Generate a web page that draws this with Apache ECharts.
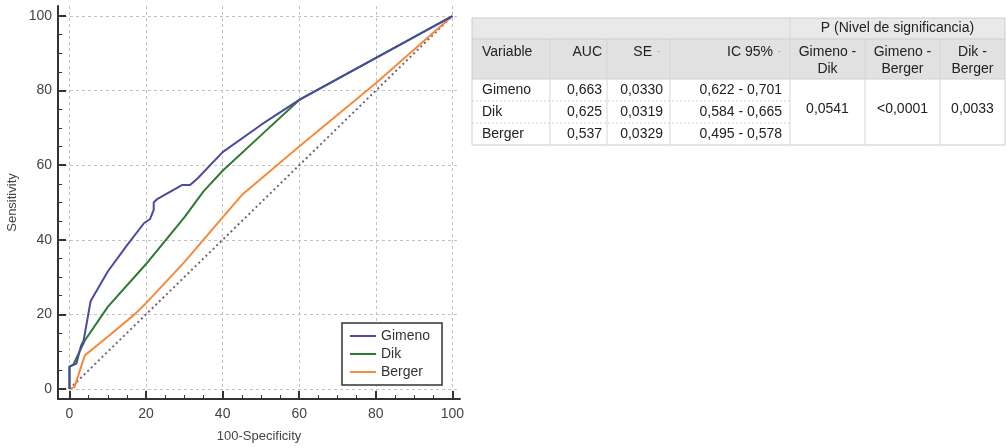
<!DOCTYPE html>
<html><head><meta charset="utf-8">
<script src="https://cdn.jsdelivr.net/npm/echarts@6/dist/echarts.min.js"></script>
<style>html,body{margin:0;padding:0;background:#fff}#c{width:1007px;height:448px}</style>
</head><body><div id="c"></div>
<script>
// ---- data ----
const seriesNames = ['Gimeno', 'Dik', 'Berger'];
const gimenoX = [0, 0, 1.8, 3, 3.7, 5.5, 10, 15, 19.5, 21, 22, 22, 23, 29.5, 31.5, 33.5, 40, 50, 60, 100];
const gimenoY = [0, 6, 6.8, 11.5, 13, 23.5, 31.5, 38.5, 44.5, 45.5, 48, 50, 51, 54.7, 54.7, 56.5, 63.5, 70.8, 77.5, 100];
const dikX = [0, 0, 1, 4, 10, 20, 30, 35, 40, 50, 60, 100];
const dikY = [0, 6, 6.5, 13, 22, 33.5, 46, 53, 58.5, 68, 77.5, 100];
const bergerX = [0, 1.3, 4, 10, 17, 20, 30, 40, 45, 60, 80, 100];
const bergerY = [0, 0.5, 9, 14, 20, 23, 34, 46, 52, 65, 82, 100];
const diagX = [0, 100];
const diagY = [0, 100];
const tickValues = [0, 20, 40, 60, 80, 100];
const minorTickValues = [0, 5, 10, 15, 20, 25, 30, 35, 40, 45, 50, 55, 60, 65, 70, 75, 80, 85, 90, 95, 100];
const xName = '100-Specificity';
const yName = 'Sensitivity';

const tableHeaders = ['Variable', 'AUC', 'SE', 'IC 95%'];
const tableVariables = ['Gimeno', 'Dik', 'Berger'];
const tableAUC = ['0,663', '0,625', '0,537'];
const tableSE = ['0,0330', '0,0319', '0,0329'];
const tableCI = ['0,622 - 0,701', '0,584 - 0,665', '0,495 - 0,578'];
const pTitle = 'P (Nivel de significancia)';
const pHeaders = [['Gimeno -', 'Dik'], ['Gimeno -', 'Berger'], ['Dik -', 'Berger']];
const pValues = ['0,0541', '<0,0001', '0,0033'];

// ---- chart ----
const FONT = '"Liberation Sans", Arial, Helvetica, sans-serif';
const colors = ['#4a4aa0', '#2d7a32', '#f58a3c'];
const zip = (xs, ys) => xs.map((x, i) => [x, ys[i]]);

const chart = echarts.init(document.getElementById('c'), null, {renderer: 'canvas'});

function axisCommon(min, max) {
  return {
    type: 'value', min: min, max: max,
    axisLine: {show: true, onZero: false, lineStyle: {color: '#333', width: 2}},
    axisTick: {show: true, inside: true, length: 8, customValues: tickValues, lineStyle: {color: '#333', width: 2}},
    axisLabel: {customValues: tickValues, fontSize: 14, color: '#444', fontFamily: FONT},
    splitLine: {show: true, lineStyle: {color: '#c2c2c2', width: 1, type: [3, 3]}},
    nameLocation: 'middle',
    nameTextStyle: {fontSize: 13, color: '#444', fontFamily: FONT}
  };
}
function minorAxis(min, max, pos) {
  return {
    type: 'value', min: min, max: max, position: pos,
    axisLine: {show: false, onZero: false},
    axisTick: {show: true, inside: true, length: 4, customValues: minorTickValues, lineStyle: {color: '#333', width: 1}},
    axisLabel: {show: false},
    splitLine: {show: false}
  };
}

const xMain = Object.assign(axisCommon(-3, 102), {position: 'bottom', name: xName, nameGap: 31});
xMain.axisLabel.margin = 8;
const yMain = Object.assign(axisCommon(-2.7, 102.7), {position: 'left', name: yName, nameGap: 39});
yMain.axisLabel.margin = 6;

// ---- table graphic ----
const colX = [472, 550, 607, 670, 790, 865, 940, 1005];
const tTop = 18, h1 = 39, h2 = 79, rowH = 22;
const tBottom = h2 + rowH * tableVariables.length;
const g = [];
const txtStyle = (s) => Object.assign({fontSize: 14, fontFamily: FONT, fill: '#222'}, s);
g.push({type: 'rect', shape: {x: colX[0], y: tTop, width: colX[7] - colX[0], height: h2 - tTop}, style: {fill: '#e1e1e1'}});
g.push({type: 'rect', shape: {x: colX[0], y: tTop, width: colX[7] - colX[0], height: h1 - tTop}, style: {fill: '#e9e9e9'}});
g.push({type: 'rect', shape: {x: colX[0], y: h2, width: colX[7] - colX[0], height: tBottom - h2}, style: {fill: '#fff'}});
g.push({type: 'line', shape: {x1: colX[0], y1: h1, x2: colX[7], y2: h1}, style: {stroke: '#cfcfcf', lineWidth: 1}});
g.push({type: 'line', shape: {x1: colX[0], y1: h2, x2: colX[7], y2: h2}, style: {stroke: '#cfcfcf', lineWidth: 1}});
for (let r = 1; r < tableVariables.length; r++) {
  const y = h2 + rowH * r;
  g.push({type: 'line', shape: {x1: colX[0], y1: y, x2: colX[4], y2: y}, style: {stroke: '#d6d6d6', lineWidth: 1, lineDash: [2, 2]}});
}
for (let c = 1; c < colX.length - 1; c++) {
  const yStart = c === 4 ? tTop : h1;
  g.push({type: 'line', shape: {x1: colX[c], y1: yStart, x2: colX[c], y2: tBottom}, style: {stroke: '#d6d6d6', lineWidth: 1}});
}
g.push({type: 'rect', shape: {x: colX[0], y: tTop, width: colX[7] - colX[0], height: tBottom - tTop}, style: {fill: 'none', stroke: '#cccccc', lineWidth: 1}});
g.push({type: 'text', x: (colX[4] + colX[7]) / 2, y: (tTop + h1) / 2, style: txtStyle({text: pTitle, align: 'center', verticalAlign: 'middle'})});
const hY = 52;
g.push({type: 'text', x: colX[0] + 10, y: hY, style: txtStyle({text: tableHeaders[0], align: 'left', verticalAlign: 'middle'})});
g.push({type: 'text', x: 602, y: hY, style: txtStyle({text: tableHeaders[1], align: 'right', verticalAlign: 'middle'})});
g.push({type: 'text', x: 652, y: hY, style: txtStyle({text: tableHeaders[2], align: 'right', verticalAlign: 'middle'})});
g.push({type: 'text', x: 657, y: hY, style: txtStyle({text: '-', fontSize: 9, fill: '#999', align: 'left', verticalAlign: 'middle'})});
g.push({type: 'text', x: 773, y: hY, style: txtStyle({text: tableHeaders[3], align: 'right', verticalAlign: 'middle'})});
g.push({type: 'text', x: 778, y: hY, style: txtStyle({text: '-', fontSize: 9, fill: '#999', align: 'left', verticalAlign: 'middle'})});
pHeaders.forEach((lines, i) => {
  const cx = (colX[4 + i] + colX[5 + i]) / 2;
  g.push({type: 'text', x: cx, y: hY, style: txtStyle({text: lines[0], align: 'center', verticalAlign: 'middle'})});
  g.push({type: 'text', x: cx, y: hY + 17, style: txtStyle({text: lines[1], align: 'center', verticalAlign: 'middle'})});
});
tableVariables.forEach((v, r) => {
  const cy = h2 + rowH * r + rowH / 2;
  g.push({type: 'text', x: colX[0] + 10, y: cy, style: txtStyle({text: v, align: 'left', verticalAlign: 'middle'})});
  g.push({type: 'text', x: 602, y: cy, style: txtStyle({text: tableAUC[r], align: 'right', verticalAlign: 'middle'})});
  g.push({type: 'text', x: 663, y: cy, style: txtStyle({text: tableSE[r], align: 'right', verticalAlign: 'middle'})});
  g.push({type: 'text', x: 782, y: cy, style: txtStyle({text: tableCI[r], align: 'right', verticalAlign: 'middle'})});
});
pValues.forEach((p, i) => {
  const cx = (colX[4 + i] + colX[5 + i]) / 2;
  g.push({type: 'text', x: cx, y: 109, style: txtStyle({text: p, align: 'center', verticalAlign: 'middle'})});
});

const option = {
  animation: false,
  backgroundColor: '#fff',
  color: colors,
  grid: {left: 58, right: 547, top: 6, bottom: 48, containLabel: false},
  xAxis: [xMain, minorAxis(-3, 102, 'bottom')],
  yAxis: [yMain, minorAxis(-2.7, 102.7, 'left')],
  legend: {
    data: seriesNames, orient: 'vertical', left: 342, top: 323,
    borderColor: '#333', borderWidth: 1.5, backgroundColor: '#fff',
    padding: [6, 12, 6, 8], itemWidth: 26, itemHeight: 2, itemGap: 4, icon: 'rect',
    textStyle: {fontSize: 14, color: '#333', fontFamily: FONT}
  },
  series: [
    {name: 'ref', type: 'line', data: zip(diagX, diagY), showSymbol: false, silent: true,
     lineStyle: {color: '#7a5f78', width: 2, type: [2, 3]}, z: 1},
    {name: seriesNames[0], type: 'line', data: zip(gimenoX, gimenoY), showSymbol: false, lineStyle: {width: 2, color: colors[0]}, itemStyle: {color: colors[0]}, z: 4},
    {name: seriesNames[1], type: 'line', data: zip(dikX, dikY), showSymbol: false, lineStyle: {width: 2, color: colors[1]}, itemStyle: {color: colors[1]}, z: 3},
    {name: seriesNames[2], type: 'line', data: zip(bergerX, bergerY), showSymbol: false, lineStyle: {width: 2, color: colors[2]}, itemStyle: {color: colors[2]}, z: 2}
  ],
  graphic: g
};
chart.setOption(option);
</script>
</body></html>
